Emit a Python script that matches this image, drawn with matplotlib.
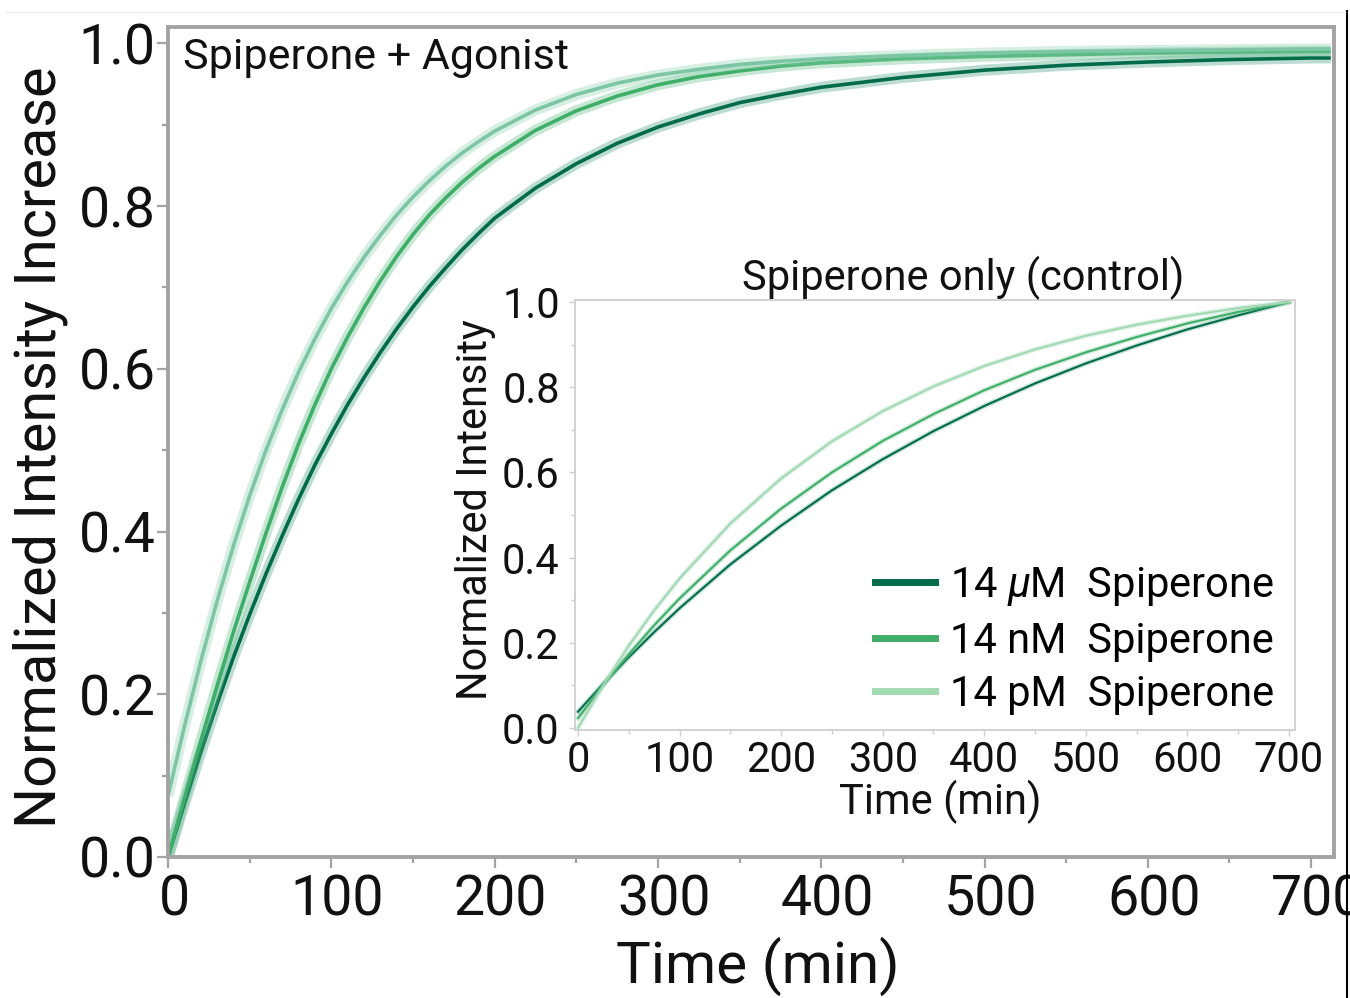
import numpy as np
import matplotlib
matplotlib.use("Agg")
import matplotlib.pyplot as plt
import matplotlib.font_manager as fm
import matplotlib.transforms as mtrans
from matplotlib.lines import Line2D
from matplotlib.ticker import MultipleLocator, FormatStrFormatter

#font close to the look of the original
names = set(f.name for f in fm.fontManager.ttflist)
font = "Liberation Sans Narrow" if "Liberation Sans Narrow" in names else "Roboto"
plt.rcParams["font.family"] = [font, "DejaVu Sans"]
plt.rcParams["mathtext.fontset"] = "custom"
plt.rcParams["mathtext.rm"] = font
plt.rcParams["mathtext.it"] = font + ":italic"

#main panel: spiperone + agonist
main_t = [0, 10, 20, 30, 40, 50, 60, 70, 80, 90, 100, 110, 120, 130, 140, 150, 160, 170, 180, 190, 200,
          225, 250, 275, 300, 325, 350, 375, 400, 450, 500, 550, 600, 650, 700, 712]
main_uM = [0.0, 0.065, 0.128, 0.188, 0.245, 0.298, 0.348, 0.395, 0.44, 0.482, 0.52, 0.556, 0.589, 0.62,
           0.649, 0.676, 0.701, 0.724, 0.746, 0.766, 0.785,
           0.822, 0.852, 0.877, 0.897, 0.913, 0.927, 0.937, 0.946, 0.958, 0.967, 0.973, 0.977, 0.98, 0.982, 0.982]
main_nM = [0.0, 0.072, 0.142, 0.21, 0.276, 0.338, 0.398, 0.455, 0.508, 0.556, 0.6, 0.639, 0.675, 0.708,
           0.738, 0.765, 0.789, 0.81, 0.829, 0.846, 0.861,
           0.893, 0.917, 0.935, 0.949, 0.959, 0.966, 0.972, 0.976, 0.981, 0.984, 0.986, 0.988, 0.989, 0.99, 0.99]
main_pM = [0.075, 0.16, 0.24, 0.314, 0.382, 0.444, 0.5, 0.55, 0.596, 0.637, 0.674, 0.707, 0.737, 0.764,
           0.789, 0.811, 0.831, 0.849, 0.865, 0.879, 0.892,
           0.918, 0.937, 0.951, 0.961, 0.968, 0.974, 0.978, 0.981, 0.985, 0.988, 0.99, 0.991, 0.992, 0.993, 0.993]

#inset: spiperone only (control)
inset_t = [0, 25, 50, 75, 100, 150, 200, 250, 300, 350, 400, 450, 500, 550, 600, 650, 700]
inset_uM = [0.038, 0.104, 0.166, 0.225, 0.281, 0.384, 0.475, 0.558, 0.631, 0.697,
            0.756, 0.809, 0.856, 0.898, 0.936, 0.969, 1.0]
inset_nM = [0.023, 0.101, 0.173, 0.241, 0.304, 0.417, 0.515, 0.600, 0.674, 0.737,
            0.793, 0.841, 0.882, 0.918, 0.950, 0.977, 1.0]
inset_pM = [0.0, 0.101, 0.193, 0.276, 0.351, 0.480, 0.586, 0.673, 0.744, 0.802,
            0.850, 0.889, 0.921, 0.947, 0.968, 0.986, 1.0]

labels = ["14 $\\mu$M  Spiperone", "14 nM  Spiperone", "14 pM  Spiperone"]
line_colors = ["#006b48", "#3fae68", "#a3d9b3"]
band_colors = ["#3f9c80", "#5cbb86", "#8fd1b0"]
main_colors = ["#006b48", "#3fae68", "#7cc6a6"]

W, H = 1350, 998
fig = plt.figure(figsize=(W/100, H/100), dpi=100)

frame = "#a3a3a3"
ax = fig.add_axes([168/W, 1-857/H, (1334-168)/W, (857-27)/H])
series = [main_uM, main_nM, main_pM]
for i in range(3):
    ax.plot(main_t, series[i], color=band_colors[i], lw=8, alpha=0.35, solid_capstyle="butt")
    ax.plot(main_t, series[i], color=main_colors[i], lw=2.6, solid_capstyle="butt")
ax.set_xlim(0, 714)
ax.set_ylim(0, 1.02)
ax.xaxis.set_major_locator(MultipleLocator(100))
ax.xaxis.set_minor_locator(MultipleLocator(50))
ax.yaxis.set_major_locator(MultipleLocator(0.2))
ax.yaxis.set_minor_locator(MultipleLocator(0.1))
ax.yaxis.set_major_formatter(FormatStrFormatter("%.1f"))
for s in ax.spines.values():
    s.set_color(frame)
    s.set_linewidth(2.8)
ax.tick_params(which="major", direction="out", length=8, width=1.6, color=frame,
               labelsize=40, labelcolor="#111111")
ax.tick_params(which="minor", direction="out", length=4.5, width=1.6, color=frame)
ax.tick_params(axis="x", which="major", pad=4)
ax.tick_params(axis="y", which="major", pad=1)
#x labels in the original sit a little right of their ticks
shift = mtrans.ScaledTranslation(6/100, 0, fig.dpi_scale_trans)
for lab in ax.get_xticklabels():
    lab.set_transform(lab.get_transform() + shift)

fig.text(183/W, 1-58/H, "Spiperone + Agonist", fontsize=31, ha="left", va="center", color="#111111")
fig.text(758/W, 1-966/H, "Time (min)", fontsize=42, ha="center", va="center", color="#111111")
fig.text(40/W, 1-447/H, "Normalized Intensity Increase", fontsize=41.5, rotation=90,
         ha="center", va="center", color="#111111")

#inset axes
light = "#cfcfcf"
ax2 = fig.add_axes([575/W, 1-730/H, 720/W, 430/H])
ax2.set_zorder(3)
ax2.set_facecolor("white")
inset_series = [inset_uM, inset_nM, inset_pM]
for i in range(3):
    ax2.plot(inset_t, inset_series[i], color=band_colors[i], lw=3.5, alpha=0.3)
    ax2.plot(inset_t, inset_series[i], color=line_colors[i], lw=1.5)
ax2.set_xlim(-3, 706)
ax2.set_ylim(-0.005, 1.005)
ax2.xaxis.set_major_locator(MultipleLocator(100))
ax2.xaxis.set_minor_locator(MultipleLocator(50))
ax2.yaxis.set_major_locator(MultipleLocator(0.2))
ax2.yaxis.set_minor_locator(MultipleLocator(0.1))
ax2.yaxis.set_major_formatter(FormatStrFormatter("%.1f"))
for s in ax2.spines.values():
    s.set_color(light)
    s.set_linewidth(1.3)
ax2.tick_params(which="major", direction="out", length=4, width=1, color=light,
                labelsize=30, labelcolor="#111111")
ax2.tick_params(which="minor", direction="out", length=3, width=1, color=light)
ax2.tick_params(axis="x", which="major", pad=3)
ax2.tick_params(axis="y", which="major", pad=7)

fig.text(963/W, 1-278/H, "Spiperone only (control)", fontsize=30, ha="center", va="center", color="#111111")
fig.text(940/W, 1-802/H, "Time (min)", fontsize=30, ha="center", va="center", color="#111111")
fig.text(475/W, 1-510/H, "Normalized Intensity", fontsize=30, rotation=90,
         ha="center", va="center", color="#111111")

handles = [Line2D([0], [0], color=c, lw=5) for c in line_colors]
ax2.legend(handles, labels, loc="upper left", bbox_to_anchor=(875/W, 1-565/H),
           bbox_transform=fig.transFigure, frameon=False, fontsize=30,
           handlelength=1.45, handletextpad=0.35, labelspacing=0.3,
           borderpad=0, borderaxespad=0)

#edges of the original crop
fig.add_artist(Line2D([1347/W, 1347/W], [0, 1-11/H], transform=fig.transFigure, color="black", lw=1.5))
fig.add_artist(Line2D([5/W, 1345/W], [1-12/H, 1-12/H], transform=fig.transFigure, color="#eeeeee", lw=1))

fig.savefig("out.png", dpi=100)
